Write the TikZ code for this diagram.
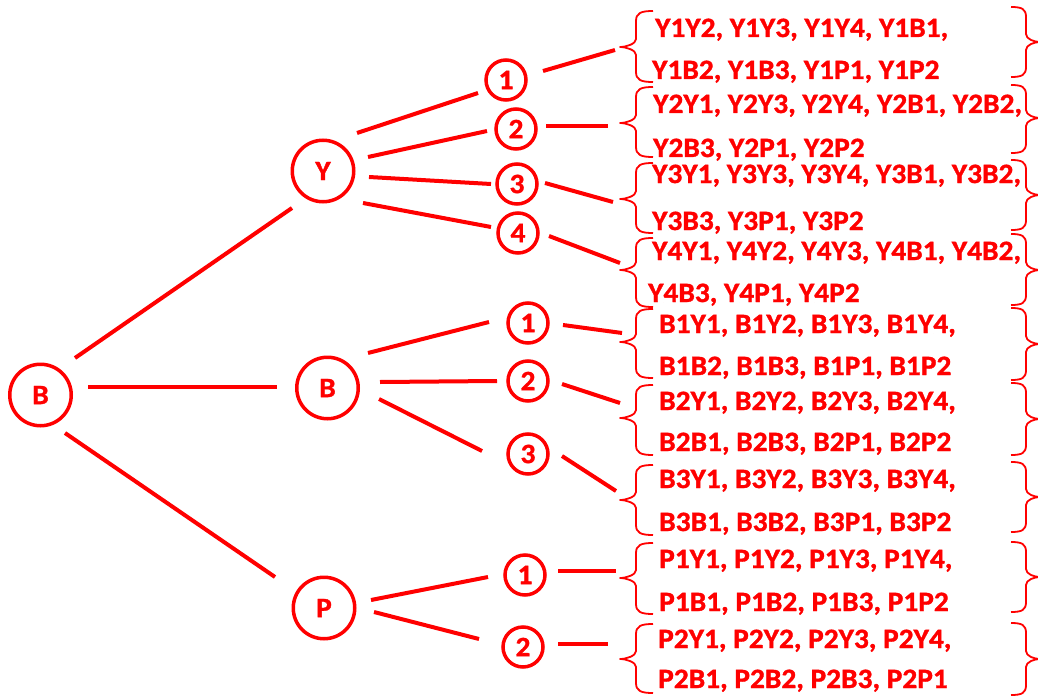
\documentclass[tikz,border=0pt]{standalone}
\usepackage{fontspec}
\setmainfont{Carlito}[FakeStretch=1.05, BoldFeatures={FakeBold=1.2}]
\tikzset{
  circ/.style={circle, draw=red, line width=3.5pt, text=red, inner sep=0pt, font=\fontsize{28}{32}\selectfont\bfseries},
  bigc/.style={circ, minimum size=61.5pt},
  smallc/.style={circ, minimum size=40pt},
  conn/.style={draw=red, line width=4pt},
  brc/.style={draw=red, line width=1.8pt, line join=round},
  txt/.style={anchor=base west, inner sep=0pt, text=red, font=\fontsize{28}{32}\selectfont\bfseries}
}
\newcommand{\lbr}[4]{% name, top, bottom, mid (tip x=620)
  \draw[brc] (653,#2) .. controls (641,#2) and (636,#2+2) .. (636,#2+10)
    -- (636,#4-8) .. controls (636,#4-3) and (626,#4) .. (620,#4)
    .. controls (626,#4) and (636,#4+3) .. (636,#4+8)
    -- (636,#3-10) .. controls (636,#3-2) and (641,#3) .. (653,#3);
  \coordinate (#1) at (620,#4);}
\newcommand{\rbr}[3]{% top, bottom, mid
  \draw[brc] (1011,#1) .. controls (1022,#1) and (1026,#1+2) .. (1026,#1+10)
    -- (1026,#3-8) .. controls (1026,#3-3) and (1034,#3) .. (1040,#3)
    .. controls (1034,#3) and (1026,#3+3) .. (1026,#3+8)
    -- (1026,#2-10) .. controls (1026,#2-2) and (1022,#2) .. (1011,#2);}
\begin{document}
\begin{tikzpicture}[x=1pt,y=-1pt]
\useasboundingbox (0,0) rectangle (1038,698);
% nodes
\node[bigc] (root) at (40.5,395) {B};
\node[bigc] (Y) at (323,171) {Y};
\node[bigc] (Bm) at (327.5,388) {B};
\node[bigc] (P) at (324,608) {P};
\node[smallc] (y1) at (506,80) {1};
\node[smallc] (y2) at (516,129) {2};
\node[smallc] (y3) at (517,184) {3};
\node[smallc] (y4) at (518,233) {4};
\node[smallc] (b1) at (528,323) {1};
\node[smallc] (b2) at (528,381) {2};
\node[smallc] (b3) at (528,454) {3};
\node[smallc] (p1) at (525,575) {1};
\node[smallc] (p2) at (523,647) {2};
% braces
\lbr{tY1}{11}{82}{47}
\lbr{tY2}{87}{157}{123}
\lbr{tY3}{163}{233}{199}
\lbr{tY4}{238}{307}{270}
\lbr{tB1}{309}{378}{342}
\lbr{tB2}{385}{455}{418}
\lbr{tB3}{465}{535}{500}
\lbr{tP1}{543}{614}{578}
\lbr{tP2}{624}{693}{659}
\rbr{7}{77}{42}
\rbr{85}{153}{118}
\rbr{160}{230}{195}
\rbr{234}{305}{270}
\rbr{308}{380}{344}
\rbr{383}{455}{419}
\rbr{462}{532}{497}
\rbr{542}{612}{577}
\rbr{623}{695}{659}
% texts
\node[txt] (l1a) at (655,37) {Y1Y2, Y1Y3, Y1Y4, Y1B1,};
\node[txt] (l1b) at (652,79) {Y1B2, Y1B3, Y1P1, Y1P2};
\node[txt] (l2a) at (653,113) {Y2Y1, Y2Y3, Y2Y4, Y2B1, Y2B2,};
\node[txt] (l2b) at (653,157) {Y2B3, Y2P1, Y2P2};
\node[txt] (l3a) at (652,183) {Y3Y1, Y3Y3, Y3Y4, Y3B1, Y3B2,};
\node[txt] (l3b) at (652,230) {Y3B3, Y3P1, Y3P2};
\node[txt] (l4a) at (652,260) {Y4Y1, Y4Y2, Y4Y3, Y4B1, Y4B2,};
\node[txt] (l4b) at (648,302) {Y4B3, Y4P1, Y4P2};
\node[txt] (l5a) at (659,333) {B1Y1, B1Y2, B1Y3, B1Y4,};
\node[txt] (l5b) at (659,375) {B1B2, B1B3, B1P1, B1P2};
\node[txt] (l6a) at (659,410) {B2Y1, B2Y2, B2Y3, B2Y4,};
\node[txt] (l6b) at (659,451) {B2B1, B2B3, B2P1, B2P2};
\node[txt] (l7a) at (659,488) {B3Y1, B3Y2, B3Y3, B3Y4,};
\node[txt] (l7b) at (659,531) {B3B1, B3B2, B3P1, B3P2};
\node[txt] (l8a) at (659,568) {P1Y1, P1Y2, P1Y3, P1Y4,};
\node[txt] (l8b) at (659,611) {P1B1, P1B2, P1B3, P1P2};
\node[txt] (l9a) at (658,648) {P2Y1, P2Y2, P2Y3, P2Y4,};
\node[txt] (l9b) at (658,688) {P2B1, P2B2, P2B3, P2P1};
% connectors
\draw[conn] ([shift={(34.5,-37)}]root.center) -- ([shift={(-31,37)}]Y.center);
\draw[conn] ([shift={(47.5,-8)}]root.center) -- ([shift={(-50.5,-1)}]Bm.center);
\draw[conn] ([shift={(24.5,38)}]root.center) -- ([shift={(-49,-31)}]P.center);
\draw[conn] ([shift={(34,-38)}]Y.center) -- ([shift={(-28,13)}]y1.center);
\draw[conn] ([shift={(45,-14)}]Y.center) -- ([shift={(-29,2)}]y2.center);
\draw[conn] ([shift={(46,6)}]Y.center) -- ([shift={(-26,0)}]y3.center);
\draw[conn] ([shift={(40,32)}]Y.center) -- ([shift={(-27,-6)}]y4.center);
\draw[conn] ([shift={(40.5,-35)}]Bm.center) -- ([shift={(-39,-1)}]b1.center);
\draw[conn] ([shift={(52.5,-6)}]Bm.center) -- ([shift={(-31,0)}]b2.center);
\draw[conn] ([shift={(51.5,11)}]Bm.center) -- ([shift={(-46,-3)}]b3.center);
\draw[conn] ([shift={(47,-8)}]P.center) -- ([shift={(-37,2)}]p1.center);
\draw[conn] ([shift={(50,4)}]P.center) -- ([shift={(-44,-8)}]p2.center);
\draw[conn] ([shift={(37,-9)}]y1.center) -- ([shift={(-5,3)}]tY1);
\draw[conn] ([shift={(30,-3)}]y2.center) -- ([shift={(-12,3)}]tY2);
\draw[conn] ([shift={(28,-1)}]y3.center) -- ([shift={(-7,3)}]tY3);
\draw[conn] ([shift={(31,3)}]y4.center) -- ([shift={(0,-7)}]tY4);
\draw[conn] ([shift={(35,2)}]b1.center) -- ([shift={(2,-9)}]tB1);
\draw[conn] ([shift={(34,3)}]b2.center) -- ([shift={(0,-15)}]tB2);
\draw[conn] ([shift={(34,2)}]b3.center) -- ([shift={(-4,-9)}]tB3);
\draw[conn] ([shift={(33,-4)}]p1.center) -- ([shift={(-4,-7)}]tP1);
\draw[conn] ([shift={(35,-3)}]p2.center) -- ([shift={(-12,-15)}]tP2);
\end{tikzpicture}
\end{document}
